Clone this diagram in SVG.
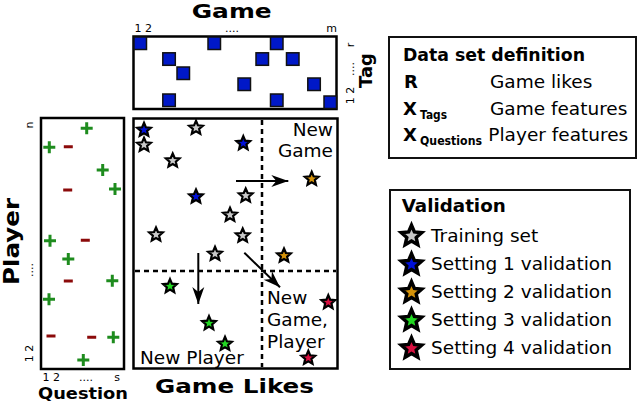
<svg xmlns="http://www.w3.org/2000/svg" xmlns:xlink="http://www.w3.org/1999/xlink" width="640" height="406" viewBox="0 0 640 406">
<style>
text{font-family:"DejaVu Sans","Liberation Sans",sans-serif;fill:#000}
.t{font-size:18.5px}
.b{font-weight:bold}
.sm{font-size:11px}
.frame{fill:#fff;stroke:#000;stroke-width:2.5}
.box{fill:#fff;stroke:#111;stroke-width:2}
.sq{fill:#0018c8;stroke:#111;stroke-width:1.5}
.pl{stroke:#1e8c1e;stroke-width:3;fill:none}
.mi{stroke:#8b0a0a;stroke-width:3;fill:none}
.st use{stroke:#000;stroke-width:2.2;stroke-linejoin:miter}
.lg use{stroke-width:2.3}
.gr{fill:#c8c8c8}.bl{fill:#0010d8}.or{fill:#d4920a}.gn{fill:#22d822}.rd{fill:#d81040}
.dash{stroke:#000;stroke-width:2.5;stroke-dasharray:5 4;fill:none}
.arr{stroke:#000;stroke-width:2;fill:none;marker-end:url(#ah)}
</style>
<defs>
<path id="star" d="M0,-7.2 L1.94,-2.67 L6.85,-2.22 L3.14,1.02 L4.23,5.82 L0,3.3 L-4.23,5.82 L-3.14,1.02 L-6.85,-2.22 L-1.94,-2.67 Z"/>
<marker id="ah" markerUnits="userSpaceOnUse" markerWidth="20" markerHeight="14" viewBox="-18 -7 19 14" refX="0" refY="0" orient="auto">
<path d="M0,0 L-17,-6 L-12,0 L-17,6 Z" fill="#000"/>
</marker>
</defs>
<rect width="640" height="406" fill="#fff"/>

<g id="game-tag-matrix">
<text class="b" x="231.7" y="18" font-size="20" text-anchor="middle" textLength="80" lengthAdjust="spacingAndGlyphs">Game</text>
<text class="sm" x="134.5" y="32">1 2</text>
<text class="sm" x="232" y="32" text-anchor="middle">....</text>
<text class="sm" x="331.5" y="32" text-anchor="middle">m</text>
<rect class="frame" x="133.5" y="36.5" width="203" height="72.5"/>
<rect class="sq" x="134" y="37" width="12.5" height="12.5"/>
<rect class="sq" x="208" y="37" width="12.5" height="12.5"/>
<rect class="sq" x="270.5" y="37" width="12.5" height="12.5"/>
<rect class="sq" x="162.8" y="52.8" width="12.5" height="12.5"/>
<rect class="sq" x="256" y="52.8" width="12.5" height="12.5"/>
<rect class="sq" x="286.5" y="52.8" width="12.5" height="12.5"/>
<rect class="sq" x="177" y="67" width="12.5" height="12.5"/>
<rect class="sq" x="238" y="78" width="12.5" height="12.5"/>
<rect class="sq" x="307.8" y="78" width="12.5" height="12.5"/>
<rect class="sq" x="162.8" y="94" width="12.5" height="12.5"/>
<rect class="sq" x="270.5" y="94" width="12.5" height="12.5"/>
<rect class="sq" x="324" y="96" width="12.5" height="12.5"/>
<text class="sm" transform="translate(353.5,45) rotate(-90)" text-anchor="middle">r</text>
<text class="sm" transform="translate(353.5,69) rotate(-90)" text-anchor="middle">....</text>
<text class="sm" transform="translate(353.5,95.5) rotate(-90)" text-anchor="middle">1 2</text>
<text class="b" transform="translate(372,70.5) rotate(-90)" font-size="17" text-anchor="middle" textLength="35" lengthAdjust="spacingAndGlyphs">Tag</text>
</g>

<g id="player-question-matrix">
<text class="b" transform="translate(19,241.5) rotate(-90)" font-size="21" text-anchor="middle" textLength="87" lengthAdjust="spacingAndGlyphs">Player</text>
<text class="sm" transform="translate(33,125) rotate(-90)" text-anchor="middle">n</text>
<text class="sm" transform="translate(33,270) rotate(-90)" text-anchor="middle">....</text>
<text class="sm" transform="translate(33,353.5) rotate(-90)" text-anchor="middle">1 2</text>
<rect class="frame" x="41" y="118" width="83" height="251"/>
<path class="pl" d="M80.7,128.3h12M86.7,122.3v12 M43.3,147.3h12M49.3,141.3v12 M96.7,170h12M102.7,164v12 M109,189h12M115,183v12 M44,240.7h12M50,234.7v12 M62.3,259h12M68.3,253v12 M106.3,280.7h12M112.3,274.7v12 M43,299.3h12M49,293.3v12 M107.3,337.3h12M113.3,331.3v12 M77.3,360h12M83.3,354v12"/>
<path class="mi" d="M63.8,146.7h9 M63.2,190h9 M80.8,240.3h9 M63.8,281h9 M46.5,336h9 M87.2,337.3h9"/>
<text class="sm" x="42.5" y="381">1 2</text>
<text class="sm" x="86" y="381" text-anchor="middle">....</text>
<text class="sm" x="117" y="381" text-anchor="middle">s</text>
<text class="b" x="38" y="398.5" font-size="16.5" textLength="90" lengthAdjust="spacingAndGlyphs">Question</text>
</g>

<g id="game-likes-matrix">
<rect class="frame" x="133.5" y="118.5" width="204" height="250"/>
<line class="dash" x1="262" y1="120" x2="262" y2="367"/>
<line class="dash" x1="135" y1="271" x2="336" y2="271"/>
<text class="t" x="333" y="136" text-anchor="end">New</text>
<text class="t" x="333" y="156.7" text-anchor="end">Game</text>
<text class="t" x="267" y="304.3">New</text>
<text class="t" x="267" y="326">Game,</text>
<text class="t" x="267" y="347.7">Player</text>
<text class="t" x="140" y="364.3">New Player</text>
<g class="st">
<use href="#star" x="144" y="130" class="bl"/>
<use href="#star" x="196" y="128" class="gr"/>
<use href="#star" x="144" y="145" class="gr"/>
<use href="#star" x="243.3" y="143.3" class="bl"/>
<use href="#star" x="172.7" y="160.7" class="gr"/>
<use href="#star" x="311.7" y="179" class="or"/>
<use href="#star" x="196" y="196.7" class="bl"/>
<use href="#star" x="245.7" y="195.7" class="gr"/>
<use href="#star" x="230" y="215" class="gr"/>
<use href="#star" x="156" y="234.7" class="gr"/>
<use href="#star" x="242.7" y="235.7" class="gr"/>
<use href="#star" x="215" y="254" class="gr"/>
<use href="#star" x="284" y="255.7" class="or"/>
<use href="#star" x="170" y="286.3" class="gn"/>
<use href="#star" x="328.3" y="302.3" class="rd"/>
<use href="#star" x="209" y="323.3" class="gn"/>
<use href="#star" x="225" y="344" class="gn"/>
<use href="#star" x="308.3" y="358" class="rd"/>
</g>
<text class="b" x="234.5" y="393" font-size="20" text-anchor="middle" textLength="159" lengthAdjust="spacingAndGlyphs">Game Likes</text>
</g>

<g id="connectors">
<line class="arr" x1="236" y1="181" x2="288.3" y2="181"/>
<line class="arr" x1="198.3" y1="253" x2="198.3" y2="304"/>
<line class="arr" x1="244.3" y1="252.7" x2="280" y2="287.3"/>
</g>

<g id="legend-dataset">
<rect class="box" x="389" y="37" width="247" height="121"/>
<text class="b" x="403" y="60.7" font-size="18" textLength="182" lengthAdjust="spacingAndGlyphs">Data set definition</text>
<text class="b" x="404" y="88.3" font-size="18">R</text>
<text class="t" x="490" y="88.3">Game likes</text>
<text class="b" x="403" y="115" font-size="18">X</text>
<text class="b" x="420" y="119.3" font-size="12" textLength="27" lengthAdjust="spacingAndGlyphs">Tags</text>
<text class="t" x="490" y="115">Game features</text>
<text class="b" x="403" y="140.5" font-size="18">X</text>
<text class="b" x="420" y="145" font-size="12" textLength="62" lengthAdjust="spacingAndGlyphs">Questions</text>
<text class="t" x="488.3" y="140.5">Player features</text>
</g>

<g id="legend-validation">
<rect class="box" x="390" y="190" width="240" height="179"/>
<text class="b" x="401.7" y="212.3" font-size="18.3">Validation</text>
<g class="st lg">
<use href="#star" class="gr" transform="translate(411.5,236) scale(1.5)"/>
<use href="#star" class="bl" transform="translate(411.5,264.5) scale(1.5)"/>
<use href="#star" class="or" transform="translate(411.5,292.5) scale(1.5)"/>
<use href="#star" class="gn" transform="translate(411.5,320.5) scale(1.5)"/>
<use href="#star" class="rd" transform="translate(411.5,348.5) scale(1.5)"/>
</g>
<text class="t" x="431" y="241.7">Training set</text>
<text class="t" x="431" y="270">Setting 1 validation</text>
<text class="t" x="431" y="298.3">Setting 2 validation</text>
<text class="t" x="431" y="326">Setting 3 validation</text>
<text class="t" x="431" y="354">Setting 4 validation</text>
</g>
</svg>
